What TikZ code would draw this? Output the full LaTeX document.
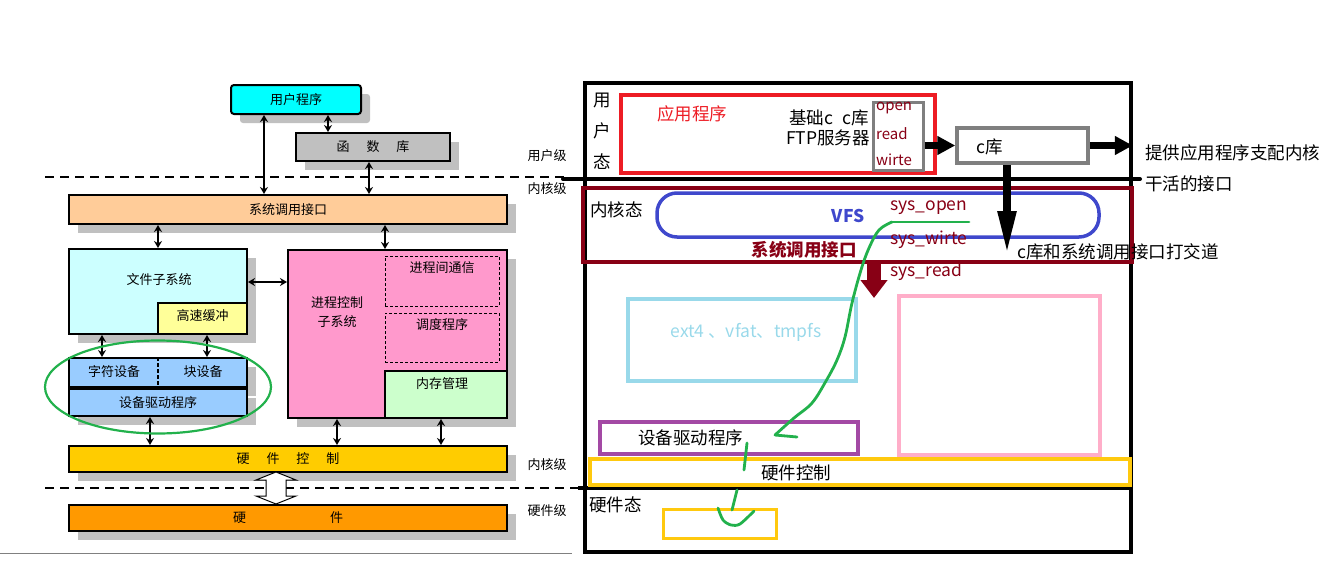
\documentclass[tikz,border=0pt]{standalone}
\usepackage{fontspec}
\setmainfont{Noto Sans CJK SC}
\usepackage{xcolor}
\usetikzlibrary{arrows.meta,shapes.geometric,shadows}

\definecolor{lCyan}{HTML}{00FFFF}
\definecolor{lGray}{HTML}{C0C0C0}
\definecolor{lPeach}{HTML}{FFCC99}
\definecolor{lIce}{HTML}{CCFFFF}
\definecolor{lLemon}{HTML}{FFFF99}
\definecolor{lPink}{HTML}{FF99CC}
\definecolor{lMint}{HTML}{CCFFCC}
\definecolor{lSky}{HTML}{99CCFF}
\definecolor{lGold}{HTML}{FFCC00}
\definecolor{lOrange}{HTML}{FF9900}
\definecolor{pGreen}{HTML}{22B14C}
\definecolor{pRed}{HTML}{ED1C24}
\definecolor{pWine}{HTML}{880015}
\definecolor{pBlue}{HTML}{3F48CC}
\definecolor{pGray}{HTML}{7F7F7F}
\definecolor{pAqua}{HTML}{99D9EA}
\definecolor{pRose}{HTML}{FFAEC9}
\definecolor{pPurple}{HTML}{A349A4}
\definecolor{pAmber}{HTML}{FFC90E}

\begin{document}
\begin{tikzpicture}[x=1pt, y=-1pt,
  blk/.style={draw, line width=2pt, inner sep=0pt, font=\fontsize{13}{15}\selectfont,
              drop shadow={shadow xshift=9pt, shadow yshift=-9pt, fill=lGray, opacity=1}},
  sub/.style={draw, line width=2pt, inner sep=0pt},
  part/.style={draw, line width=1pt, dash pattern=on 3pt off 2pt, inner sep=0pt},
  ltxt/.style={font=\fontsize{13}{19}\selectfont, inner sep=0pt, align=center},
  dar/.style={{Stealth[length=7pt,width=8pt]}-{Stealth[length=7pt,width=8pt]}, line width=2pt},
  lvl/.style={dash pattern=on 9pt off 6pt, line width=1.8pt},
  frm/.style={draw, line width=3.5pt, inner sep=0pt},
  rtxt/.style={font=\fontsize{17.5}{20}\selectfont, inner sep=0pt},
  stxt/.style={font=\fontsize{15}{17}\selectfont, inner sep=0pt, text=pWine, anchor=west},
  barr/.style={-{Triangle[length=18pt,width=18pt]}, line width=7pt},
  pen/.style={pGreen, line width=2.8pt, line cap=round, line join=round}
]
\useasboundingbox (0,0) rectangle (1342,562);

\node[blk, fill=lCyan, rounded corners=3pt, minimum width=130, minimum height=29] (userprog) at (296,99.5) {用户程序};
\node[blk, fill=lGray, minimum width=154, minimum height=28] (funclib) at (373,147) {函\hspace{1.3em}数\hspace{1.3em}库};
\node[blk, fill=lPeach, minimum width=438, minimum height=29] (syscall) at (288,209.5) {系统调用接口};

\node[blk, fill=lIce, minimum width=178, minimum height=85] (filesys) at (158,291.5) {};
\node[sub, fill=lLemon, minimum width=89, minimum height=31] (cache) at (202.5,318.5) {};
\node[ltxt] (filesysT) at (159,280) {文件子系统};
\node[ltxt] (cacheT) at (202.5,316) {高速缓冲};

\node[blk, fill=lPink, minimum width=219, minimum height=168] (procctl) at (397.5,334) {};
\node[part, minimum width=114, minimum height=50] (ipc) at (442,281) {};
\node[part, minimum width=114, minimum height=49] (sched) at (442,337.5) {};
\node[sub, fill=lMint, minimum width=122, minimum height=47] (memmgr) at (446,394.5) {};
\node[ltxt] (procctlT) at (337,312) {进程控制\\子系统};
\node[ltxt] (ipcT) at (442,268) {进程间通信};
\node[ltxt] (schedT) at (442,325) {调度程序};
\node[ltxt] (memmgrT) at (442,384) {内存管理};

\node[blk, fill=lSky, minimum width=178, minimum height=29] (devrow) at (158,372.5) {};
\node[blk, fill=lSky, minimum width=178, minimum height=27] (driver) at (158,402.5) {设备驱动程序};
\node[ltxt] (chardevT) at (114,372) {字符设备};
\node[ltxt] (blockdevT) at (203,372) {块设备};
\draw[line width=1.6pt, dash pattern=on 4pt off 2pt] (devrow.north) -- (devrow.south);

\node[blk, fill=lGold, minimum width=438, minimum height=26] (hwctl) at (288,459) {硬\hspace{1.3em}件\hspace{1.3em}控\hspace{1.3em}制};
\node[blk, fill=lOrange, minimum width=438, minimum height=26] (hw) at (288,518) {硬\hspace{84pt}件};

\draw[dar] (264,0 |- userprog.south) -- (264,0 |- syscall.north);
\draw[dar] (328,0 |- userprog.south) -- (328,0 |- funclib.north);
\draw[dar] (369,0 |- funclib.south) -- (369,0 |- syscall.north);
\draw[dar] (158,0 |- syscall.south) -- (158,0 |- filesys.north);
\draw[dar] (385,0 |- syscall.south) -- (385,0 |- procctl.north);
\draw[dar] (filesys.east |- 0,282) -- (procctl.west |- 0,282);
\draw[dar] (102,0 |- filesys.south) -- (102,0 |- devrow.north);
\draw[dar] (207,0 |- cache.south) -- (207,0 |- devrow.north);
\draw[dar] (150,0 |- driver.south) -- (150,0 |- hwctl.north);
\draw[dar] (337,0 |- procctl.south) -- (337,0 |- hwctl.north);
\draw[dar] (441,0 |- memmgr.south) -- (441,0 |- hwctl.north);

\draw[lvl] (45,177) -- (565,177);
\draw[lvl] (45,488) -- (578,488);
\draw[fill=white, line width=1pt] (276,472) -- (296,480) -- (286,480) -- (286,496) -- (296,496)
  -- (276,504) -- (256,496) -- (266,496) -- (266,480) -- (256,480) -- cycle;

\node[ltxt] (userlvl) at (547,156) {用户级};
\node[ltxt] (kernlvl) at (547,189) {内核级};
\node[ltxt] (kernlvl2) at (547,465) {内核级};
\node[ltxt] (hwlvl) at (547,511) {硬件级};

\node[draw=pGreen, line width=2.2pt, ellipse, minimum width=226, minimum height=93] (devring) at (158,387) {};
\draw[gray, line width=1pt] (0,553) -- (572,553);

% right side
\node[frm, minimum width=546, minimum height=469] (rframe) at (858,317.5) {};
\draw[line width=4pt, line cap=round] (563,179) -- (1140,179);
\draw[line width=4pt] (578,488) -- (rframe.east |- 0,488);

\node[frm, draw=pRed, minimum width=314, minimum height=78] (app) at (778,134) {};
\node[frm, draw=pGray, line width=3pt, minimum width=50, minimum height=68] (rwbox) at (898,136) {};
\node[frm, draw=pGray, minimum width=131, minimum height=35] (clib) at (1022.5,145.5) {};
\node[frm, draw=pWine, minimum width=549, minimum height=74] (kbox) at (857.5,225) {};
\node[frm, draw=pBlue, rounded corners=20pt, minimum width=442, minimum height=44] (vfs) at (878,215) {};
\node[frm, draw=pAqua, minimum width=228, minimum height=82] (fsbox) at (742,340) {};
\node[frm, draw=pRose, minimum width=201, minimum height=159] (procbox) at (999.5,375.5) {};
\node[frm, draw=pPurple, minimum width=258, minimum height=32] (drvbox) at (729,438) {};
\node[frm, draw=pAmber, minimum width=540, minimum height=26] (hwbox) at (860,472) {};
\node[frm, draw=pAmber, line width=3pt, minimum width=113, minimum height=29] (devbox) at (719.5,523.5) {};

\node[rtxt, align=center, font=\fontsize{17.5}{31}\selectfont] (userst) at (602,131) {用\\户\\态};
\node[rtxt, text=pRed] (appT) at (692,114) {应用程序};
\node[rtxt, anchor=east] (baseT) at (869,118) {基础c\hspace{9pt}c库};
\node[rtxt, anchor=east] (ftpT) at (870,138) {FTP服务器};
\node[stxt] (openT) at (876,108) {open};
\node[stxt] (readT) at (876,134) {read};
\node[stxt] (writeT) at (876,160) {wirte};
\node[rtxt, anchor=west] (clibT) at (976,147) {c库};
\node[rtxt, anchor=west] (ifaceT) at (1145,153) {提供应用程序支配内核};
\node[rtxt, anchor=west] (ifaceT2) at (1145,184) {干活的接口};

\node[rtxt, anchor=west] (kernst) at (590,210) {内核态};
\node[rtxt, text=pBlue, font=\fontsize{17.5}{20}\selectfont\bfseries] (vfsT) at (848,216) {VFS};
\node[rtxt, anchor=west, text=pWine] (sopenT) at (890,208) {sys\_open};
\node[rtxt, anchor=west, text=pWine] (swriteT) at (890,240) {sys\_wirte};
\node[rtxt, anchor=west, text=pWine] (sreadT) at (890,272) {sys\_read};
\node[rtxt, text=pWine, font=\fontsize{17.5}{20}\selectfont\bfseries] (kcallT) at (804,250) {系统调用接口};
\node[rtxt, anchor=west] (talkT) at (1017,252) {c库和系统调用接口打交道};

\node[rtxt, text=pAqua] (fsT) at (746,332) {ext4 、vfat、tmpfs};
\node[rtxt, anchor=west] (drvT) at (638,438) {设备驱动程序};
\node[rtxt] (hwctlT) at (796,473) {硬件控制};
\node[rtxt, anchor=west] (hwst) at (589,505) {硬件态};

\coordinate (talk) at (1007,255);
\coordinate (fsTip) at (874,298);
\draw[barr] (rwbox.east |- clib.west) -- (clib.west);
\draw[barr] (clib.east) -- (clib.east -| rframe.east);
\draw[-{Triangle[length=44pt,width=17pt]}, line width=8pt] (clib.south -| talk) -- (talk);
\draw[pWine, -{Triangle[length=18pt,width=26pt]}, line width=14pt] (kbox.south -| fsTip) -- (fsTip);

\draw[pen] (969,222) -- (892,222);
\draw[pen] plot[smooth, tension=0.6] coordinates {(892,222) (879,230) (869,248) (861,270) (852,303)
  (845,337) (837,360) (826,381) (812,403) (794,418) (775,435)};
\draw[pen] (775,435) -- (797,437);
\draw[pen] (747,443) -- (744,470);
\draw[pen] (737,490) -- (732,510);
\draw[pen] plot[smooth] coordinates {(718,508) (723,520) (731,525) (740,524) (754,511)};
\end{tikzpicture}
\end{document}
